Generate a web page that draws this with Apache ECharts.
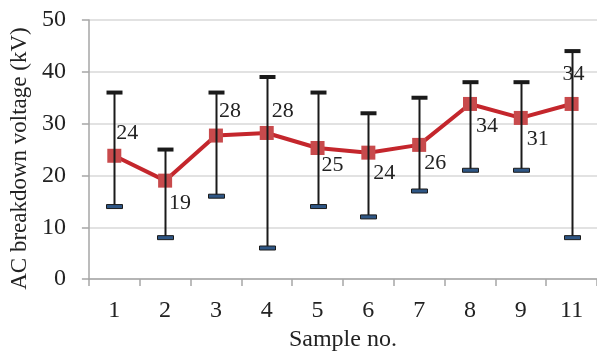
<!DOCTYPE html>
<html>
<head>
<meta charset="utf-8">
<script src="https://cdn.jsdelivr.net/npm/echarts@6/dist/echarts.min.js"></script>
<style>
html,body{margin:0;padding:0;background:#fff;}
#c{width:597px;height:357px;}
#prime{position:absolute;left:-9999px;top:-9999px;visibility:hidden;font-family:"Liberation Serif","Times New Roman",serif;font-size:24px;}
</style>
</head>
<body>
<div id="c"></div>
<div id="prime">AC breakdown voltage (kV) Sample no. 0123456789</div>
<script>
const categories = ['1','2','3','4','5','6','7','8','9','11'];
const meanValues = [23.8, 19.0, 27.7, 28.2, 25.3, 24.4, 25.9, 33.8, 31.1, 33.8];
const upperValues = [36, 25, 36, 39, 36, 32, 35, 38, 38, 44];
const lowerValues = [14, 8, 16, 6, 14, 12, 17, 21, 21, 8];
const yTicks = [0, 10, 20, 30, 40, 50];

// label placement (style): [dx, dy] from marker centre
const labelOffsets = [[2,-23],[4,23],[3,-24],[5,-22],[4,17],[5,21],[5,18],[6,22],[6,21],[-9,-30]];

// font variants (each re-render uses a new string so cached text widths are refreshed)
const FONTS = [
  '"Liberation Serif", "Times New Roman", serif',
  '"Liberation Serif", Times, serif',
  '"Liberation Serif", Tinos, serif',
  '"Liberation Serif", "Nimbus Roman", serif',
  '"Liberation Serif", serif'
];

const lineData = meanValues.map((v, i) => ({
  value: v,
  label: { offset: labelOffsets[i] }
}));
const errData = categories.map((c, i) => [i, lowerValues[i], upperValues[i]]);

function buildOption(font) {
  return {
    animation: false,
    backgroundColor: '#fff',
    textStyle: { fontFamily: font },
    grid: { left: 86, top: 20, width: 512, height: 263, containLabel: false },
    xAxis: {
      type: 'category',
      data: categories,
      boundaryGap: true,
      name: 'Sample no.',
      nameLocation: 'middle',
      nameGap: 42,
      nameTextStyle: { fontFamily: font, fontSize: 24, color: '#222' },
      axisLine: { lineStyle: { color: '#a6a6a6', width: 1.5 } },
      axisTick: { show: true, length: 7, lineStyle: { color: '#a6a6a6', width: 1.5 } },
      axisLabel: { fontFamily: font, fontSize: 24, color: '#222', margin: 20 },
      splitLine: { show: false }
    },
    yAxis: {
      type: 'value',
      min: yTicks[0],
      max: yTicks[yTicks.length - 1],
      interval: 10,
      name: 'AC breakdown voltage (kV)',
      nameLocation: 'middle',
      nameGap: 54,
      nameTextStyle: { fontFamily: font, fontSize: 23, color: '#222', padding: [0, 18, 0, 0] },
      axisLine: { show: true, lineStyle: { color: '#a6a6a6', width: 1.5 } },
      axisTick: { show: true, length: 7, lineStyle: { color: '#a6a6a6', width: 1.5 } },
      axisLabel: { fontFamily: font, fontSize: 24, color: '#222', margin: 23 },
      splitLine: { show: true, lineStyle: { color: '#d9d9d9', width: 1.5 } }
    },
    series: [
      {
        type: 'line',
        data: lineData,
        z: 2,
        symbol: 'rect',
        symbolSize: 14,
        lineStyle: { color: '#c4262c', width: 4 },
        itemStyle: { color: '#c84a4c' },
        label: {
          show: true,
          position: 'inside',
          align: 'left',
          verticalAlign: 'middle',
          fontFamily: font,
          fontSize: 22,
          color: '#222',
          formatter: p => Math.round(p.value)
        }
      },
      {
        type: 'custom',
        z: 3,
        data: errData,
        renderItem: function (params, api) {
          const idx = api.value(0);
          const lo = api.coord([idx, api.value(1)]);
          const hi = api.coord([idx, api.value(2)]);
          const x = Math.round(lo[0]) + 0.5;
          return {
            type: 'group',
            children: [
              { type: 'line', shape: { x1: x, y1: hi[1], x2: x, y2: lo[1] }, style: { stroke: '#1a1a1a', lineWidth: 2 } },
              { type: 'rect', shape: { x: x - 8, y: hi[1] - 2, width: 16, height: 4 }, style: { fill: '#1a1a1a' } },
              { type: 'rect', shape: { x: x - 8, y: lo[1] - 2, width: 16, height: 4 }, style: { fill: '#2e5685', stroke: '#1a1a1a', lineWidth: 1 } }
            ]
          };
        }
      }
    ]
  };
}

// request the font early
(function(){ const cv = document.createElement('canvas').getContext('2d'); cv.font = '24px ' + FONTS[0]; cv.measureText('AC breakdown voltage (kV) 0123456789'); })();

const chart = echarts.init(document.getElementById('c'), null, {renderer: 'canvas'});
let n = 0;
function render() { chart.setOption(buildOption(FONTS[Math.min(n, FONTS.length - 1)]), true); n++; }
render();
if (document.fonts && document.fonts.load) {
  Promise.all([
    document.fonts.load('24px "Liberation Serif"', 'AC 0123456789'),
    document.fonts.load('22px "Liberation Serif"', '0123456789')
  ]).then(render, render);
}
if (document.fonts && document.fonts.ready) document.fonts.ready.then(render);
setTimeout(render, 150);
setTimeout(render, 600);
</script>
</body>
</html>
